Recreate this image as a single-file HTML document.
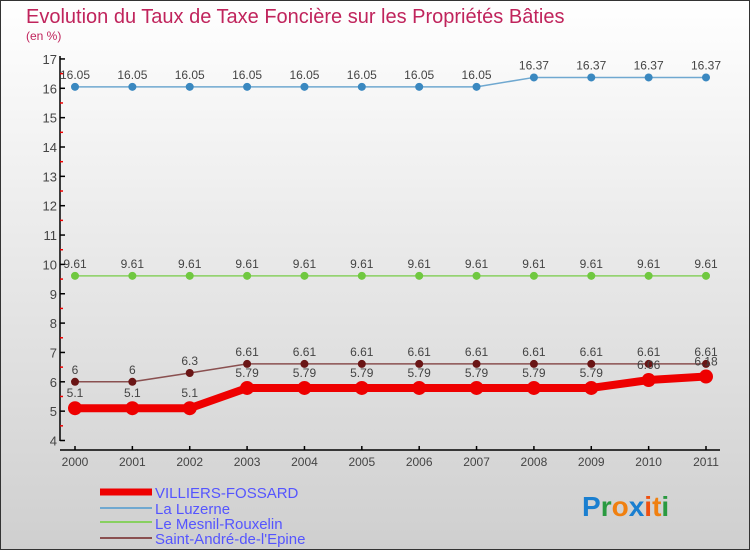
<!DOCTYPE html>
<html><head><meta charset="utf-8"><style>
body{margin:0;}
#c{width:750px;height:550px;position:relative;overflow:hidden;}
svg text{font-family:"Liberation Sans",sans-serif;}
</style></head><body>
<div id="c">
<svg id="s" width="750" height="550" xmlns="http://www.w3.org/2000/svg">
<defs><linearGradient id="bg" x1="0" y1="0" x2="0" y2="1"><stop offset="0" stop-color="#ffffff"/><stop offset="1" stop-color="#cfcfcf"/></linearGradient></defs>
<rect x="0.5" y="0.5" width="749" height="549" fill="url(#bg)" stroke="#333"/>
<text x="26" y="23" font-size="20" fill="#c0245c">Evolution du Taux de Taxe Foncière sur les Propriétés Bâties</text>
<text x="26" y="40" font-size="12" fill="#c0245c">(en %)</text>
<g id="axes"></g><g id="series"></g>
<g>
<line x1="100" y1="492" x2="152" y2="492" stroke="#ee0000" stroke-width="7"/>
<text x="155" y="498" font-size="15" fill="#5555ff">VILLIERS-FOSSARD</text>
<line x1="100" y1="508" x2="152" y2="508" stroke="#6fa8d0" stroke-width="2"/>
<text x="155" y="514" font-size="15" fill="#5555ff">La Luzerne</text>
<line x1="100" y1="522" x2="152" y2="522" stroke="#88d060" stroke-width="2"/>
<text x="155" y="529" font-size="15" fill="#5555ff">Le Mesnil-Rouxelin</text>
<line x1="100" y1="538" x2="152" y2="538" stroke="#8a5050" stroke-width="2"/>
<text x="155" y="544" font-size="15" fill="#5555ff">Saint-André-de-l'Epine</text>
</g>
<g font-size="28" font-weight="bold">
<text x="582" y="516"><tspan fill="#1a7fd0">P</tspan><tspan fill="#2a9a40">r</tspan><tspan fill="#f08010">o</tspan><tspan fill="#1a7fd0">x</tspan><tspan fill="#f05010">i</tspan><tspan fill="#f08010">t</tspan><tspan fill="#2a9a40">i</tspan></text>
</g>
</svg></div>
<script>
const years=["2000","2001","2002","2003","2004","2005","2006","2007","2008","2009","2010","2011"];
const yTicks=[4,5,6,7,8,9,10,11,12,13,14,15,16,17];
const villiers=[5.1,5.1,5.1,5.79,5.79,5.79,5.79,5.79,5.79,5.79,6.06,6.18];
const luzerne=[16.05,16.05,16.05,16.05,16.05,16.05,16.05,16.05,16.37,16.37,16.37,16.37];
const mesnil=[9.61,9.61,9.61,9.61,9.61,9.61,9.61,9.61,9.61,9.61,9.61,9.61];
const saintAndre=[6,6,6.3,6.61,6.61,6.61,6.61,6.61,6.61,6.61,6.61,6.61];
const NS="http://www.w3.org/2000/svg";
function xs(i){return 75+i*(706-75)/(years.length-1);}
function ys(v){return 440.5-(v-4)*29.35;}
function mk(t,a,p){const e=document.createElementNS(NS,t);for(const k in a)e.setAttribute(k,a[k]);p.appendChild(e);return e;}
const ax=document.getElementById('axes');
let l=mk('line',{x1:60,y1:56,x2:60,y2:441,stroke:'#000','stroke-width':1.5},ax);


l=mk('line',{x1:60,y1:450,x2:720,y2:450,stroke:'#000','stroke-width':1.5},ax);


yTicks.forEach((v,i)=>{
 const y=ys(v);
 let t=mk('line',{x1:60,y1:y,x2:65,y2:y,stroke:'#000','stroke-width':1.5},ax);
 
 
 let tx=mk('text',{x:57,y:y+5,'font-size':13,fill:'#444','text-anchor':'end'},ax);tx.textContent=v;
 
 
 if(i<yTicks.length-1){let h=mk('line',{x1:60,y1:ys(v+0.5),x2:63,y2:ys(v+0.5),stroke:'#e00','stroke-width':1.5},ax);
 
 }
});
years.forEach((yr,i)=>{
 let t=mk('line',{x1:xs(i),y1:446,x2:xs(i),y2:450,stroke:'#000','stroke-width':1.5},ax);
 
 
 let tx=mk('text',{x:xs(i),y:466,'font-size':12,fill:'#444','text-anchor':'middle'},ax);tx.textContent=yr;
 
 
});
const sg=document.getElementById('series');
function series(vals,name,col,w,r,pc){
 const g=mk('g',{},sg);
 
 
 let p=mk('polyline',{points:vals.map((v,i)=>xs(i)+','+ys(v)).join(' '),fill:'none',stroke:col,'stroke-width':w,'stroke-linejoin':'round'},g);
 
 
 vals.forEach((v,i)=>{
  let c=mk('circle',{cx:xs(i),cy:ys(v),r:r,fill:pc},g);
  
  
  let tx=mk('text',{x:xs(i),y:ys(v)-(r+4),'font-size':12,fill:'#444','text-anchor':'middle'},g);tx.textContent=v;
  
  
 });
}
series(luzerne,'luzerne','#6fa8d0',1.5,4,'#3a88c0');
series(mesnil,'mesnil','#88d060',1.5,4,'#70c840');
series(saintAndre,'saint-andre','#8a5050',1.5,4,'#6a1515');
series(villiers,'villiers','#ee0000',8,7,'#ee0000');
</script>
</body></html>
